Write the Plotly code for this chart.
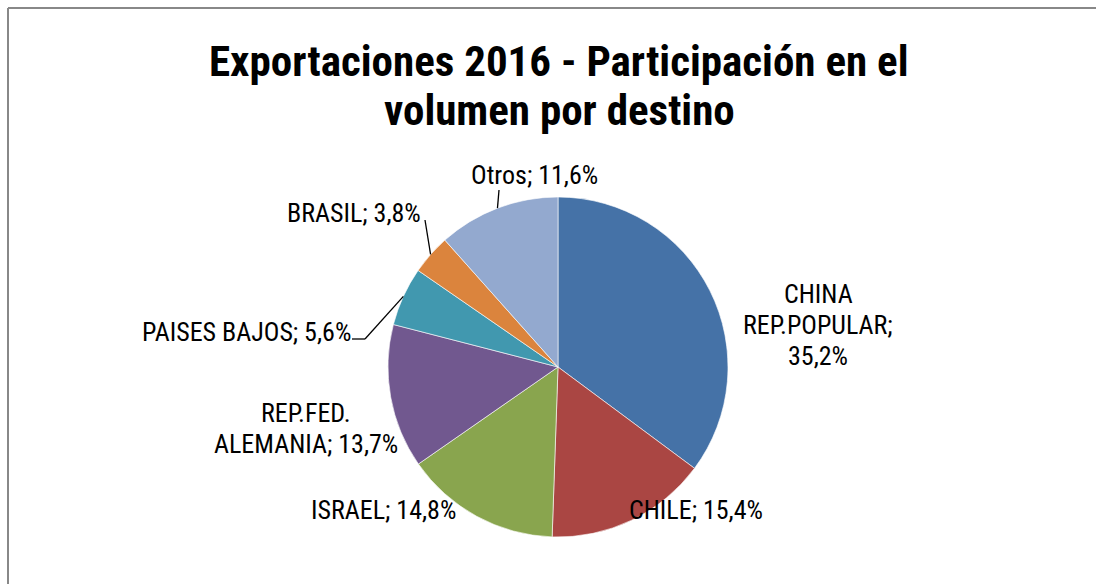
import math
import plotly.graph_objects as go

# ---- data ----
countries = ["CHINA REP.POPULAR", "CHILE", "ISRAEL", "REP.FED. ALEMANIA",
             "PAISES BAJOS", "BRASIL", "Otros"]
label_text = ["CHINA<br>REP.POPULAR;<br>35,2%", "CHILE; 15,4%", "ISRAEL; 14,8%",
              "REP.FED.<br>ALEMANIA; 13,7%", "PAISES BAJOS; 5,6%", "BRASIL; 3,8%",
              "Otros; 11,6%"]
shares = [35.2, 15.4, 14.8, 13.7, 5.6, 3.8, 11.6]
colors = ["#4572A7", "#AA4643", "#89A54E", "#71588F", "#4198AF", "#DB843D", "#93A9CF"]
title_lines = ["Exportaciones 2016 - Participación en el", "volumen por destino"]

W, H = 1096, 584
FONT = "Roboto Condensed, Liberation Sans Narrow, sans-serif"

# pie geometry in pixels
cx, cy, R = 558, 367, 170
dom_x = [(cx - R) / W, (cx + R) / W]
dom_y = [(H - (cy + R)) / H, (H - (cy - R)) / H]

fig = go.Figure(go.Pie(
    labels=countries, values=shares, sort=False, direction="clockwise",
    rotation=0, textinfo="none", hoverinfo="label+percent",
    marker=dict(colors=colors, line=dict(color="white", width=0.6)),
    domain=dict(x=dom_x, y=dom_y), showlegend=False,
))

def px(x, y):
    return x / W, 1 - y / H

# label anchor positions (pixel centres), layout only
label_pos = [(818, 325), (696, 510), (383, 510), (306, 428),
             (246, 332), (354, 213), (534, 175)]
LINE = 31

annotations = []
for txt, (lx, ly) in zip(label_text, label_pos):
    lines = txt.split("<br>")
    n = len(lines)
    for k, line in enumerate(lines):
        ax_, ay_ = px(lx, ly + (k - (n - 1) / 2) * LINE)
        annotations.append(dict(x=ax_, y=ay_, xref="paper", yref="paper", text=line,
                                showarrow=False, xanchor="center", yanchor="middle",
                                font=dict(family=FONT, size=26, color="#000")))

# title
for i, line in enumerate(title_lines):
    tx, ty = px(559, 61 + 49 * i)
    annotations.append(dict(x=tx, y=ty, xref="paper", yref="paper", text="<b>" + line + "</b>",
                            showarrow=False, xanchor="center", yanchor="middle",
                            font=dict(family=FONT, size=43, color="#000")))

# leader lines from slice mid-edge (computed from data) to label
total = sum(shares)
cum = 0
mids = []
for v in shares:
    mids.append((cum + v / 2) / total * 2 * math.pi)
    cum += v

def edge_point(i):
    a = mids[i]
    return cx + R * math.sin(a), cy - R * math.cos(a)

shapes = []
leader_ends = {6: [(499, 190)], 5: [(425, 220)], 4: [(365, 339), (352, 339)]}
for i, pts in leader_ends.items():
    x0, y0 = edge_point(i)
    path_pts = [(x0, y0)] + pts
    for (xa, ya), (xb, yb) in zip(path_pts[:-1], path_pts[1:]):
        p0 = px(xa, ya); p1 = px(xb, yb)
        shapes.append(dict(type="line", xref="paper", yref="paper",
                           x0=p0[0], y0=p0[1], x1=p1[0], y1=p1[1],
                           line=dict(color="#000", width=1.3)))

# outer border (top and left visible)
b = px(8, 8)
shapes.append(dict(type="line", xref="paper", yref="paper", x0=b[0], y0=b[1], x1=1.0, y1=b[1],
                   line=dict(color="#888888", width=2)))
shapes.append(dict(type="line", xref="paper", yref="paper", x0=b[0], y0=b[1], x1=b[0], y1=0,
                   line=dict(color="#888888", width=2)))

fig.update_layout(
    width=W, height=H, margin=dict(l=0, r=0, t=0, b=0),
    paper_bgcolor="white", plot_bgcolor="white",
    annotations=annotations, shapes=shapes,
)

fig.write_html("out.html", config={"displayModeBar": False},
               post_script="document.body.style.margin='0';document.body.style.overflow='hidden';")
